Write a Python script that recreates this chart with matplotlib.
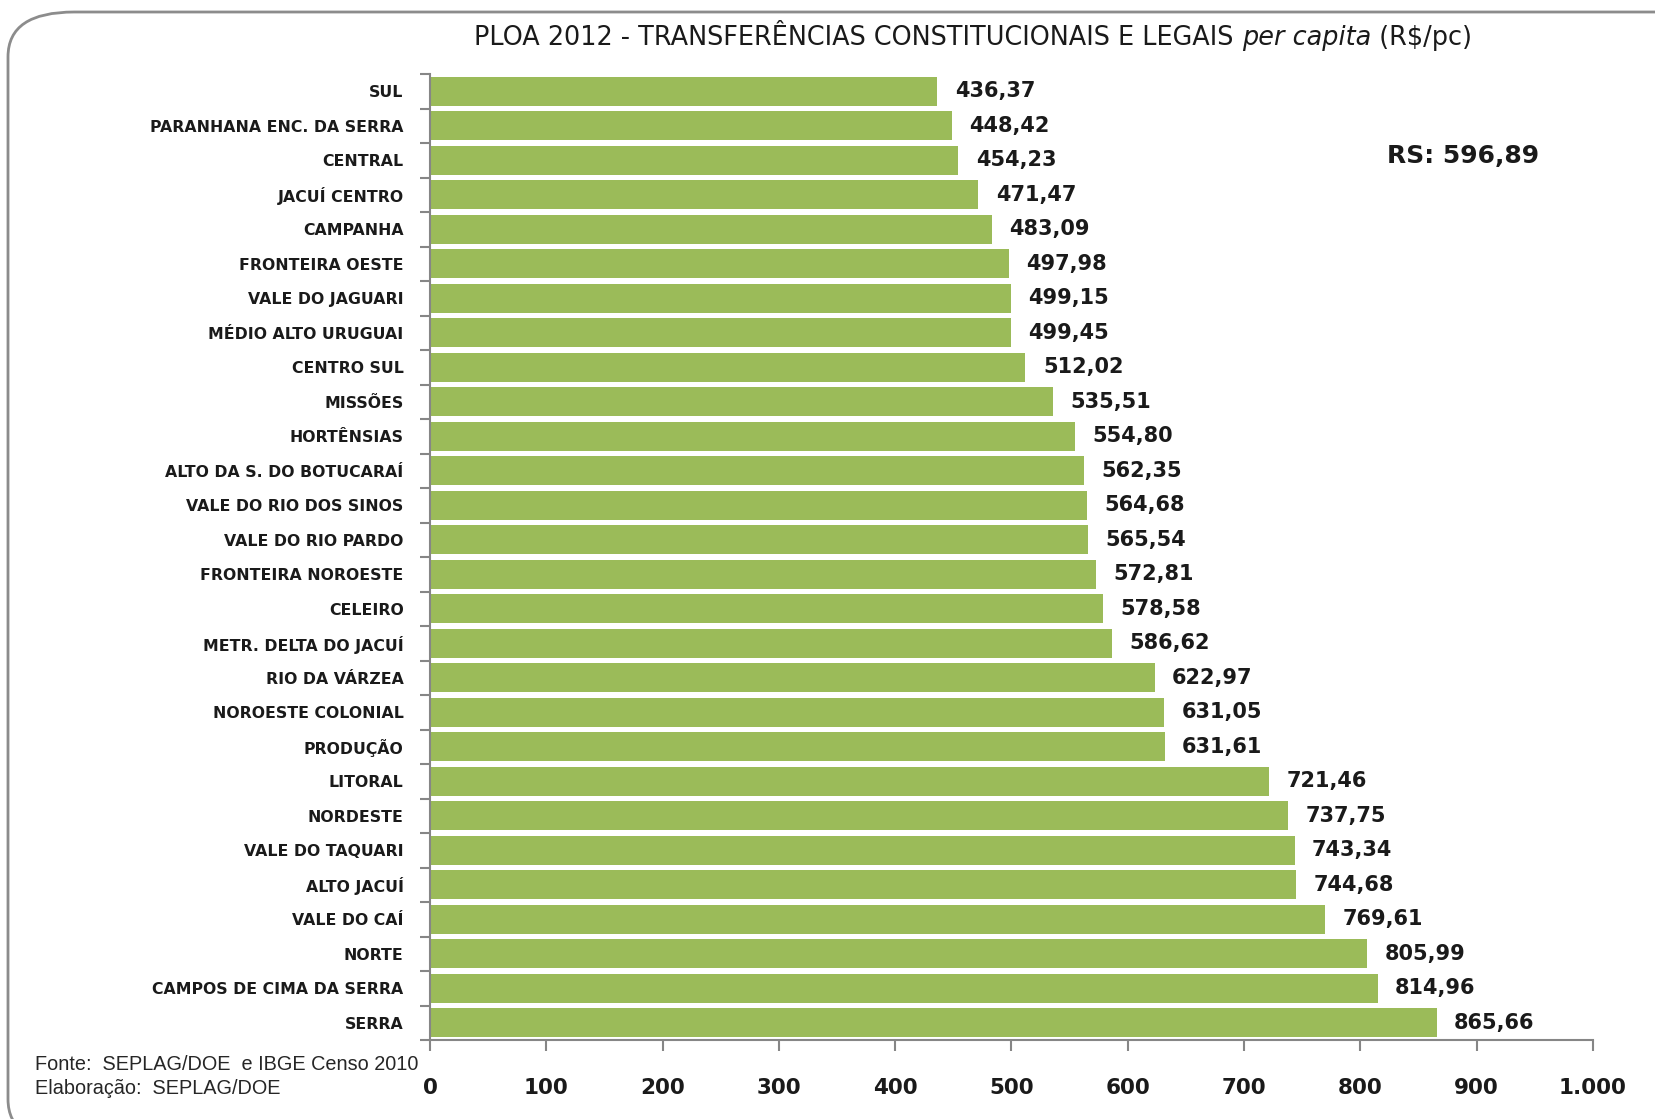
import matplotlib
matplotlib.use('Agg')
import matplotlib.pyplot as plt
from matplotlib.patches import FancyBboxPatch
import numpy as np

regions = [
    'SUL', 'PARANHANA ENC. DA SERRA', 'CENTRAL', 'JACUÍ CENTRO', 'CAMPANHA',
    'FRONTEIRA OESTE', 'VALE DO JAGUARI', 'MÉDIO ALTO URUGUAI', 'CENTRO SUL',
    'MISSÕES', 'HORTÊNSIAS', 'ALTO DA S. DO BOTUCARAÍ', 'VALE DO RIO DOS SINOS',
    'VALE DO RIO PARDO', 'FRONTEIRA NOROESTE', 'CELEIRO', 'METR. DELTA DO JACUÍ',
    'RIO DA VÁRZEA', 'NOROESTE COLONIAL', 'PRODUÇÃO', 'LITORAL', 'NORDESTE',
    'VALE DO TAQUARI', 'ALTO JACUÍ', 'VALE DO CAÍ', 'NORTE',
    'CAMPOS DE CIMA DA SERRA', 'SERRA',
]
values = [
    436.37, 448.42, 454.23, 471.47, 483.09, 497.98, 499.15, 499.45, 512.02,
    535.51, 554.80, 562.35, 564.68, 565.54, 572.81, 578.58, 586.62, 622.97,
    631.05, 631.61, 721.46, 737.75, 743.34, 744.68, 769.61, 805.99, 814.96,
    865.66,
]
x_ticks = [0, 100, 200, 300, 400, 500, 600, 700, 800, 900, 1000]
x_tick_labels = ['0', '100', '200', '300', '400', '500', '600', '700', '800', '900', '1.000']
rs_mean = 596.89

bar_color = '#9BBB59'
axis_grey = '#868686'

fig = plt.figure(figsize=(16.56, 11.19), dpi=100)

# rounded frame like the Excel chart area (runs off right and bottom edges)
frame = FancyBboxPatch((8 / 1656, -25 / 1119), 1900 / 1656, 1132 / 1119,
                       boxstyle='round,pad=0,rounding_size=0.04',
                       transform=fig.transFigure, facecolor='none',
                       edgecolor='#8c8c8c', linewidth=2, zorder=-1)
fig.patches.append(frame)

ax = fig.add_axes([430 / 1656, 1 - 1040 / 1119, (1593 - 430) / 1656, (1040 - 74) / 1119])
ax.patch.set_alpha(0)

y = np.arange(len(regions))
ax.barh(y, values, height=0.85, color=bar_color, zorder=2)
ax.set_ylim(len(regions) - 0.5, -0.5)
ax.set_xlim(0, 1000)

for yi, v in zip(y, values):
    ax.text(v + 15, yi, f'{v:.2f}'.replace('.', ','), va='center', ha='left',
            fontsize=15, fontweight='bold', color='#1a1a1a')

ax.set_yticks(y)
ax.set_yticklabels(regions, fontsize=11.3, fontweight='bold', color='#1a1a1a')
ax.set_yticks(np.arange(-0.5, len(regions), 1), minor=True)
ax.tick_params(axis='y', which='major', length=0, pad=19)
ax.tick_params(axis='y', which='minor', length=7, width=1.5, color=axis_grey)

ax.set_xticks(x_ticks)
ax.set_xticklabels(x_tick_labels, fontsize=15.5, fontweight='bold', color='#1a1a1a')
ax.tick_params(axis='x', length=8, width=1.5, color=axis_grey, pad=19)

for s in ['top', 'right']:
    ax.spines[s].set_visible(False)
for s in ['left', 'bottom']:
    ax.spines[s].set_color(axis_grey)
    ax.spines[s].set_linewidth(1.5)

# title with italic "per capita"
fig.canvas.draw()
renderer = fig.canvas.get_renderer()
parts = [('PLOA 2012 - TRANSFERÊNCIAS CONSTITUCIONAIS E LEGAIS ', 'normal'),
         ('per capita', 'italic'), (' (R$/pc)', 'normal')]
texts = []
total = 0.0
for s, style in parts:
    t = fig.text(0, 1 - 38 / 1119, s, style=style, fontsize=18.4,
                 va='center', ha='left', color='#1a1a1a')
    texts.append(t)
    total += t.get_window_extent(renderer).width / fig.bbox.width
cur = 973 / 1656 - total / 2
for t in texts:
    t.set_x(cur)
    cur += t.get_window_extent(renderer).width / fig.bbox.width

fig.text(1387 / 1656, 1 - 156 / 1119, f'RS: {rs_mean:.2f}'.replace('.', ','),
         fontsize=18, fontweight='bold', color='#1a1a1a', va='center', ha='left')

fig.text(35 / 1656, 1 - 1064 / 1119, 'Fonte:  SEPLAG/DOE  e IBGE Censo 2010',
         fontsize=14.3, family='Liberation Sans', color='#262626', va='center')
fig.text(35 / 1656, 1 - 1088 / 1119, 'Elaboração:  SEPLAG/DOE',
         fontsize=14.3, family='Liberation Sans', color='#262626', va='center')

fig.savefig('out.png', dpi=100)
